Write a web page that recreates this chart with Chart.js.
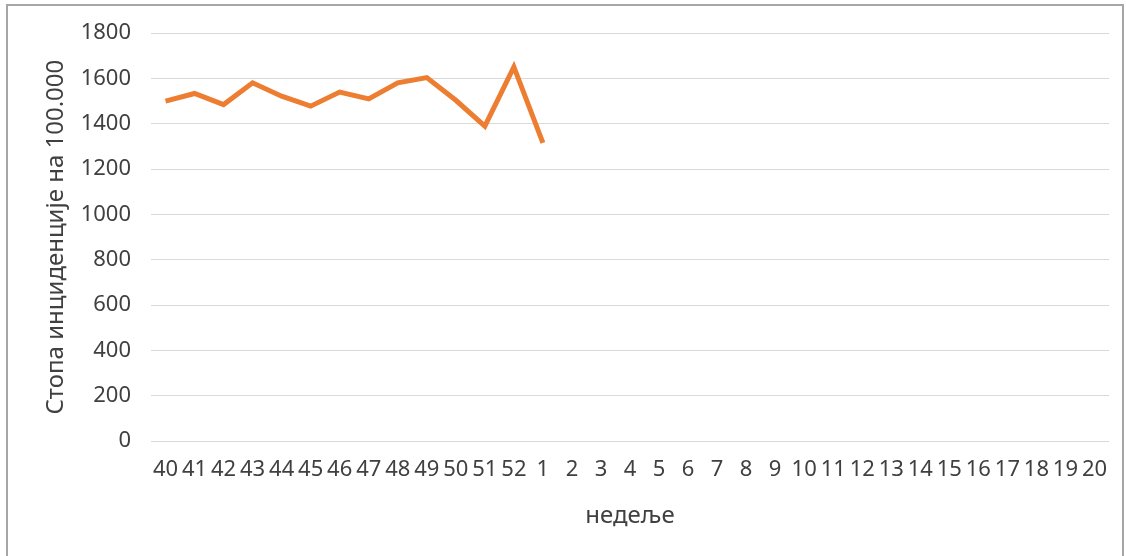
<!DOCTYPE html>
<html>
<head>
<meta charset="utf-8">
<script src="https://cdn.jsdelivr.net/npm/chart.js@4"></script>
<style>
  html, body { margin: 0; padding: 0; background: #fff; }
  #frame {
    position: absolute; left: 6px; top: 4px; width: 1118px; height: 600px;
    border: 2px solid #a6a6a6; box-sizing: border-box;
  }
  #chart { position: absolute; left: 0; top: 0; }
</style>
</head>
<body>
<div id="frame"></div>
<canvas id="chart" width="1126" height="556"></canvas>
<script>
// weeks of the season: 40..52, then 1..20
var weeks = ["40","41","42","43","44","45","46","47","48","49","50","51","52",
  "1","2","3","4","5","6","7","8","9","10","11","12","13","14","15","16","17","18","19","20"];
// incidence per 100.000 (only reported weeks)
var incidence = [1500, 1534, 1485, 1581, 1522, 1478, 1540, 1510, 1581, 1604, 1504, 1390, 1651, 1316];
var yTicks = [0, 200, 400, 600, 800, 1000, 1200, 1400, 1600, 1800];

var fontFam = "'Noto Sans', sans-serif";
var textColor = "#404040";

new Chart(document.getElementById("chart"), {
  type: "line",
  data: {
    labels: weeks,
    datasets: [{
      data: incidence,
      borderColor: "#ED7D31",
      backgroundColor: "#ED7D31",
      borderWidth: 5,
      pointRadius: 0,
      tension: 0,
      borderCapStyle: "butt",
      borderJoinStyle: "miter"
    }]
  },
  options: {
    responsive: false,
    animation: false,
    devicePixelRatio: 1,
    layout: { padding: { top: 33, right: 17, left: 0, bottom: 0 } },
    plugins: { legend: { display: false }, tooltip: { enabled: false } },
    scales: {
      x: {
        offset: true,
        grid: { display: false, drawTicks: false },
        border: { display: false },
        ticks: {
          color: textColor, padding: 16, maxRotation: 0, autoSkip: false,
          font: { family: fontFam, size: 22 }
        },
        title: {
          display: true, text: "недеље", color: textColor,
          font: { family: fontFam, size: 24 },
          padding: { top: 0, bottom: 25 }
        },
        afterFit: function (s) { s.height = 115; }
      },
      y: {
        min: 0, max: 1800,
        afterBuildTicks: function (s) { s.ticks = yTicks.map(function (v) { return { value: v }; }); },
        grid: { color: "#d9d9d9", lineWidth: 1, drawTicks: false },
        border: { display: false },
        ticks: {
          color: textColor, padding: 20,
          font: { family: fontFam, size: 22 },
          callback: function (v) { return String(v); }
        },
        title: {
          display: true, text: "Стопа инциденције на 100.000", color: textColor,
          font: { family: fontFam, size: 24 },
          padding: { top: 42, bottom: 0 }
        },
        afterFit: function (s) { s.width = 151; }
      }
    }
  }
});
</script>
</body>
</html>
